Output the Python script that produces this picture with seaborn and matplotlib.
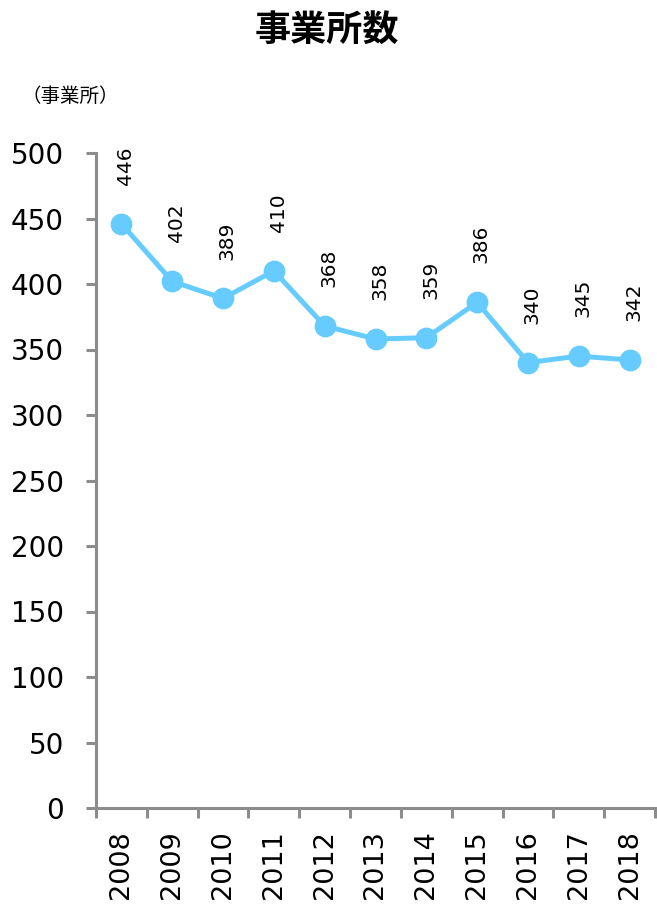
import matplotlib
matplotlib.use("Agg")
import matplotlib.pyplot as plt
import seaborn as sns
import numpy as np
from matplotlib.ticker import FixedLocator

years = ["2008", "2009", "2010", "2011", "2012", "2013", "2014", "2015", "2016", "2017", "2018"]
counts = [446, 402, 389, 410, 368, 358, 359, 386, 340, 345, 342]
y_ticks = [0, 50, 100, 150, 200, 250, 300, 350, 400, 450, 500]
title = "事業所数"
unit_label = "（事業所）"

sns.set_theme(style="white")
plt.rcParams["font.family"] = ["DejaVu Sans", "Noto Sans CJK JP"]

line_color = "#66CCFF"
axis_color = "#8C8C8C"

fig = plt.figure(figsize=(6.57, 9.07), dpi=100)
ax = fig.add_axes([96 / 657, 1 - 808 / 907, 559 / 657, (808 - 153) / 907])

sns.pointplot(x=years, y=counts, ax=ax, color=line_color, markersize=13,
              linewidth=3.6, errorbar=None)

ax.set_xlim(-0.5, len(years) - 0.5)
ax.set_ylim(0, 500)
ax.set_yticks(y_ticks)
ax.set_yticklabels([str(t) for t in y_ticks], fontsize=20, color="black")
ax.set_xticks(range(len(years)))
ax.set_xticklabels(years, rotation=90, fontsize=19.5, color="black")
ax.xaxis.set_minor_locator(FixedLocator(np.arange(-0.5, len(years), 1.0)))
ax.tick_params(axis="x", which="major", length=0, pad=16)
ax.tick_params(axis="x", which="minor", length=7, width=2.2, color=axis_color, direction="out", bottom=True)
ax.tick_params(axis="y", length=7, width=2.2, color=axis_color, direction="out", left=True, pad=16)
ax.set_xlabel("")
ax.set_ylabel("")

for side in ["top", "right"]:
    ax.spines[side].set_visible(False)
for side in ["left", "bottom"]:
    ax.spines[side].set_color(axis_color)
    ax.spines[side].set_linewidth(2.2)

for i, v in enumerate(counts):
    ax.annotate(str(v), (i, v), xytext=(3, 28), textcoords="offset points",
                rotation=90, ha="center", va="bottom", fontsize=14.5, color="black")

fig.text(327 / 657, 1 - 30 / 907, title, ha="center", va="center", fontsize=26,
         fontweight="bold", color="black", family=["Noto Sans CJK JP", "DejaVu Sans"])
fig.text(70 / 657, 1 - 96 / 907, unit_label, ha="center", va="center", fontsize=14,
         color="black", family=["Noto Sans CJK JP", "DejaVu Sans"])

fig.savefig("out.png", dpi=100)
